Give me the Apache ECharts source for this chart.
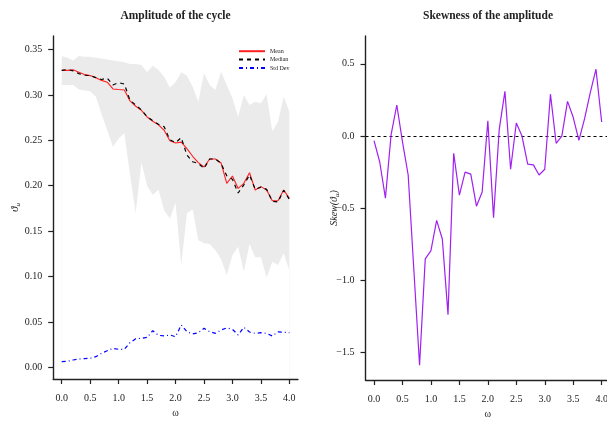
<!DOCTYPE html>
<html>
<head>
<meta charset="utf-8">
<script src="https://cdn.jsdelivr.net/npm/echarts@6/dist/echarts.min.js"></script>
<style>html,body{margin:0;padding:0;background:#fff}#c{width:607px;height:421px}</style>
</head>
<body>
<div id="c"></div>
<script>
const omega = [0.0,0.1,0.2,0.3,0.4,0.5,0.6,0.7,0.8,0.9,1.0,1.1,1.2,1.3,1.4,1.5,1.6,1.7,1.8,1.9,2.0,2.1,2.2,2.3,2.4,2.5,2.6,2.7,2.8,2.9,3.0,3.1,3.2,3.3,3.4,3.5,3.6,3.7,3.8,3.9,4.0];
const meanAmp = [0.327,0.327,0.3276,0.325,0.3224,0.3213,0.319,0.316,0.314,0.3066,0.306,0.3055,0.2934,0.2875,0.283,0.2757,0.271,0.267,0.261,0.2496,0.247,0.248,0.2408,0.2324,0.2254,0.2206,0.2294,0.2294,0.225,0.2026,0.2107,0.197,0.2026,0.2143,0.1953,0.199,0.1953,0.1835,0.1835,0.1953,0.186];
const medianAmp = [0.327,0.328,0.3265,0.3235,0.3217,0.3213,0.319,0.317,0.3185,0.311,0.3135,0.312,0.294,0.289,0.2835,0.276,0.2715,0.2676,0.265,0.2505,0.2475,0.2529,0.2338,0.2264,0.2246,0.219,0.2294,0.2294,0.2245,0.211,0.207,0.192,0.201,0.2118,0.196,0.1985,0.196,0.183,0.182,0.195,0.185];
const sdAmp = [0.0062,0.0066,0.008,0.0091,0.0095,0.0099,0.0117,0.0154,0.0183,0.0209,0.0198,0.0198,0.0271,0.0315,0.0319,0.033,0.0403,0.0352,0.0345,0.0356,0.0337,0.0466,0.0392,0.0367,0.0381,0.0429,0.0392,0.0374,0.0411,0.0433,0.0418,0.0356,0.044,0.0389,0.0374,0.0381,0.0374,0.0345,0.0389,0.0385,0.0381];
const bandUpper = [0.343,0.341,0.338,0.343,0.342,0.342,0.341,0.340,0.339,0.338,0.337,0.336,0.334,0.334,0.333,0.325,0.332,0.3274,0.320,0.308,0.314,0.325,0.321,0.309,0.2925,0.3238,0.311,0.3054,0.3256,0.311,0.2963,0.276,0.300,0.289,0.2925,0.2907,0.3007,0.260,0.2705,0.298,0.2815];
const bandLower = [0.311,0.311,0.311,0.306,0.305,0.304,0.298,0.279,0.261,0.243,0.252,0.258,0.212,0.1696,0.226,0.200,0.190,0.1955,0.173,0.164,0.181,0.1127,0.1696,0.174,0.140,0.1366,0.1358,0.129,0.119,0.1017,0.1237,0.1328,0.1053,0.1358,0.1211,0.1211,0.099,0.1163,0.1127,0.1255,0.107];
const skewAmp = [-0.032,-0.18,-0.43,0.01,0.215,-0.04,-0.27,-0.93,-1.588,-0.851,-0.794,-0.584,-0.713,-1.237,-0.12,-0.41,-0.25,-0.264,-0.486,-0.387,0.106,-0.565,0.046,0.31,-0.23,0.09,0.0,-0.195,-0.20,-0.27,-0.23,0.29,-0.05,0.0,0.24,0.13,-0.03,0.12,0.30,0.463,0.097];
const xTicks = [0,0.5,1,1.5,2,2.5,3,3.5,4];
const yTicksLeft = [0,0.05,0.1,0.15,0.2,0.25,0.3,0.35];
const yTicksRight = [-1.5,-1,-0.5,0,0.5];

const SERIF = "'Liberation Serif', 'DejaVu Serif', serif";
const INK = '#222';

function pairs(ys){ return omega.map((x,i)=>[x, ys[i]]); }

function xAxisCfg(gridIndex){
  return {
    type:'value', gridIndex, min:-0.15, max:4.15, z:10,
    name:'\u03c9', nameLocation:'middle', nameGap:29, nameMoveOverlap:false,
    nameTextStyle:{fontFamily:SERIF, fontSize:10, color:INK},
    axisLine:{show:true, onZero:false, lineStyle:{color:INK, width:1.4}},
    axisTick:{show:true, length:5, customValues:xTicks, lineStyle:{color:INK, width:1.2}},
    axisLabel:{customValues:xTicks, margin:14, fontFamily:SERIF, fontSize:10, color:INK,
      formatter:v=>v.toFixed(1)},
    splitLine:{show:false}
  };
}

const chart = echarts.init(document.getElementById('c'), null, {renderer:'canvas'});
chart.setOption({
  animation:false,
  backgroundColor:'#fff',
  title:[
    {text:'Amplitude of the cycle', left:175.5, top:10, textAlign:'center', padding:0,
     textStyle:{fontFamily:SERIF, fontSize:11.5, fontWeight:'bold', color:INK}},
    {text:'Skewness of the amplitude', left:488, top:10, textAlign:'center', padding:0,
     textStyle:{fontFamily:SERIF, fontSize:11.5, fontWeight:'bold', color:INK}}
  ],
  legend:{
    data:['Mean','Median','Std Dev'], orient:'vertical', left:238, top:48,
    itemWidth:26, itemHeight:8, itemGap:2, padding:0,
    itemStyle:{opacity:0},
    textStyle:{fontFamily:SERIF, fontSize:6, color:INK}
  },
  grid:[
    {left:53.2, top:36, width:244.7, height:343, outerBoundsMode:'none', containLabel:false},
    {left:365.5, top:36, width:244.7, height:344, outerBoundsMode:'none', containLabel:false}
  ],
  xAxis:[xAxisCfg(0), xAxisCfg(1)],
  yAxis:[
    {type:'value', gridIndex:0, min:-0.0129, max:0.3649, z:10,
     name:'{t|\u03d1}{s|u}', nameLocation:'middle', nameGap:32, nameMoveOverlap:false,
     nameTextStyle:{rich:{t:{fontFamily:SERIF, fontSize:11, fontStyle:'italic', color:INK},
                          s:{fontFamily:SERIF, fontSize:7, fontStyle:'italic', color:INK, padding:[5,0,0,0]}}},
     axisLine:{show:true, onZero:false, lineStyle:{color:INK, width:1.4}},
     axisTick:{show:true, length:5, customValues:yTicksLeft, lineStyle:{color:INK, width:1.2}},
     axisLabel:{customValues:yTicksLeft, margin:11, fontFamily:SERIF, fontSize:10, color:INK,
       formatter:v=>v.toFixed(2)},
     splitLine:{show:false}},
    {type:'value', gridIndex:1, min:-1.69, max:0.693, z:10,
     name:'{t|Skew(\u03d1}{s|u}{t|)}', nameLocation:'middle', nameGap:25, nameMoveOverlap:false,
     nameTextStyle:{rich:{t:{fontFamily:SERIF, fontSize:10, fontStyle:'italic', color:INK},
                          s:{fontFamily:SERIF, fontSize:7, fontStyle:'italic', color:INK, padding:[5,0,0,0]}}},
     axisLine:{show:true, onZero:false, lineStyle:{color:INK, width:1.4}},
     axisTick:{show:true, length:5, customValues:yTicksRight, lineStyle:{color:INK, width:1.2}},
     axisLabel:{customValues:yTicksRight, margin:11, fontFamily:SERIF, fontSize:10, color:INK,
       formatter:v=>(v<0?'\u2212':'')+Math.abs(v).toFixed(1)},
     splitLine:{show:false}}
  ],
  series:[
    {type:'line', name:'bandHigh', xAxisIndex:0, yAxisIndex:0, symbol:'none', z:1,
     data:pairs(bandUpper), lineStyle:{width:0, opacity:0},
     areaStyle:{color:'#ebebeb', opacity:1, origin:'start'}, silent:true},
    {type:'line', name:'bandLow', xAxisIndex:0, yAxisIndex:0, symbol:'none', z:1,
     data:pairs(bandLower), lineStyle:{width:0, opacity:0},
     areaStyle:{color:'#ffffff', opacity:1, origin:'start'}, silent:true},
    {type:'line', name:'Std Dev', xAxisIndex:0, yAxisIndex:0, symbol:'none', z:3,
     data:pairs(sdAmp), lineStyle:{color:'#0000ff', width:1.2, type:[4,3,1,3]}, itemStyle:{color:'#0000ff'}},
    {type:'line', name:'Mean', xAxisIndex:0, yAxisIndex:0, symbol:'none', z:3,
     data:pairs(meanAmp), lineStyle:{color:'#ff2020', width:1.1}, itemStyle:{color:'#ff0000'}},
    {type:'line', name:'Median', xAxisIndex:0, yAxisIndex:0, symbol:'none', z:4,
     data:pairs(medianAmp), lineStyle:{color:'#000', width:1.2, type:[4,4]}, itemStyle:{color:'#000'}},
    {type:'line', name:'Skew', xAxisIndex:1, yAxisIndex:1, symbol:'none', z:3,
     data:pairs(skewAmp), lineStyle:{color:'#a020f0', width:1.2},
     markLine:{silent:true, symbol:['none','none'], label:{show:false}, z:2,
       lineStyle:{color:'#000', width:1, type:[3,3]},
       emphasis:{disabled:true},
       data:[{yAxis:0}]}}
  ]
});
</script>
</body>
</html>
